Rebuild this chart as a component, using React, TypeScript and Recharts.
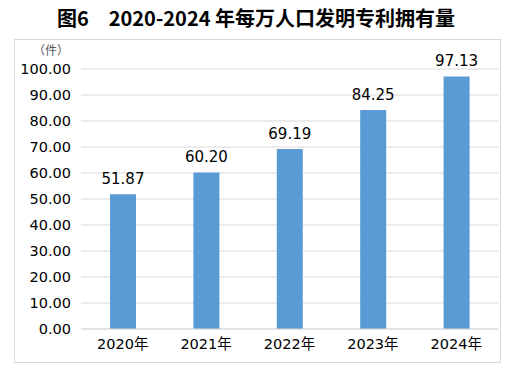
import { BarChart, Bar, XAxis, YAxis, CartesianGrid, LabelList } from 'recharts';

const years = ['2020年', '2021年', '2022年', '2023年', '2024年'];
const patents = [51.87, 60.2, 69.19, 84.25, 97.13];
const yTicks = [0, 10, 20, 30, 40, 50, 60, 70, 80, 90, 100];

const data = years.map((year, i) => ({ year, value: patents[i] }));

const GRID = '#d9d9d9';
const FONT = '"DejaVu Sans", "Noto Sans CJK SC", sans-serif';

export default function App() {
  return (
    <div style={{ position: 'absolute', left: 0, top: 0, width: 512, height: 371, background: '#fff', fontFamily: FONT }}>
      <div
        style={{
          position: 'absolute',
          left: 0,
          top: 4,
          width: 512,
          textAlign: 'center',
          fontFamily: '"Noto Sans CJK SC", sans-serif',
          fontWeight: 'bold',
          fontSize: 20,
          lineHeight: '28px',
          color: '#000',
          whiteSpace: 'pre'
        }}
      >
        图6　2020-2024 年每万人口发明专利拥有量
      </div>
      <div style={{ position: 'absolute', left: 14, top: 39, width: 485, height: 322, border: `1px solid ${GRID}` }} />
      <div
        style={{
          position: 'absolute',
          left: 33,
          top: 42,
          fontSize: 12,
          color: '#595959',
          fontFamily: '"Noto Sans CJK SC", sans-serif',
          lineHeight: '16px'
        }}
      >
        （件）
      </div>
      <div style={{ position: 'absolute', left: 0, top: 0 }}>
        <BarChart width={512} height={371} data={data} margin={{ top: 69, right: 14, bottom: 12, left: 0 }}>
          <CartesianGrid vertical={false} stroke={GRID} />
          <XAxis
            dataKey="year"
            height={30}
            axisLine={{ stroke: GRID }}
            tickLine={false}
            tickMargin={4}
            tick={{ fill: '#000', fontSize: 14.5, fontFamily: FONT }}
          />
          <YAxis
            width={81}
            domain={[0, 100]}
            ticks={yTicks}
            axisLine={false}
            tickLine={false}
            tickMargin={4}
            tickFormatter={(v: number) => v.toFixed(2)}
            tick={{ fill: '#000', fontSize: 14.5, fontFamily: FONT }}
          />
          <Bar dataKey="value" fill="#5b9bd5" barSize={26} isAnimationActive={false}>
            <LabelList
              dataKey="value"
              position="top"
              offset={10}
              formatter={(v: number) => v.toFixed(2)}
              style={{ fill: '#000', fontSize: 15, fontFamily: FONT }}
            />
          </Bar>
        </BarChart>
      </div>
    </div>
  );
}
